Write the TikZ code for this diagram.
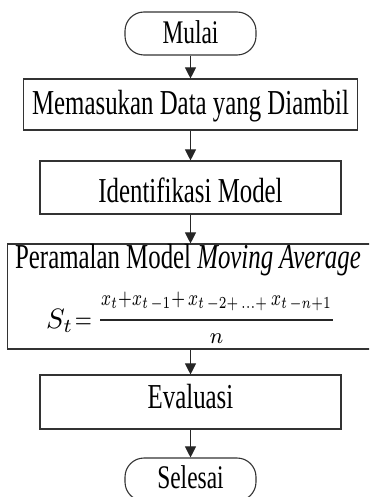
\documentclass[tikz,border=0pt]{standalone}
\usepackage{fontspec}
\setmainfont{Liberation Serif}
\usetikzlibrary{arrows.meta}

% condensed lettering used for all labels
\newcommand{\narrow}[1]{\scalebox{0.71}[1]{#1}}
% formula parts, set small and enlarged
\newcommand{\lhsmath}[1]{\scalebox{2.8}[2.8]{$#1$}}
\newcommand{\eqmath}{\scalebox{2.2}[2.8]{$=$}}
\newcommand{\nummath}[1]{\scalebox{2.09}[2.8]{\fontsize{8}{10}\selectfont$#1$}}
\newcommand{\denmath}[1]{\scalebox{2.6}[2.8]{\fontsize{8}{10}\selectfont$#1$}}

\begin{document}
\begin{tikzpicture}[x=1pt,y=-1pt,
  frame/.style={draw=black!80, line width=1.1pt, inner sep=0pt},
  stepbox/.style={frame, rectangle},
  terminal/.style={frame, rectangle, rounded corners=19pt,
    minimum width=131pt, minimum height=43pt},
  label/.style={inner sep=0pt, anchor=base,
    font=\fontsize{35}{40}\selectfont},
  termlabel/.style={label, font=\fontsize{33}{38}\selectfont},
  mathpart/.style={inner sep=0pt, anchor=base},
  flow/.style={draw=black!85, line width=1pt,
    -{Triangle[length=11pt,width=11pt]}}
]
\useasboundingbox (0,0) rectangle (369,497);
\clip (0,0) rectangle (369,497);

% shapes
\node[terminal] (start) at (190.5,33.5) {};
\node[stepbox, minimum width=334pt, minimum height=51pt] (input) at (190.5,104.5) {};
\node[stepbox, minimum width=301pt, minimum height=53pt] (ident) at (190.5,187.5) {};
\node[stepbox, minimum width=366pt, minimum height=105pt] (fcast) at (190.5,296.5) {};
\node[stepbox, minimum width=301pt, minimum height=54pt] (eval) at (190.5,402) {};
\node[terminal] (stop) at (190.5,479.5) {};

% labels
\node[termlabel] (startT) at (190.5,44) {\narrow{Mulai}};
\node[label] (inputT) at (190.5,114.3) {\narrow{Memasukan Data yang Diambil}};
\node[label] (identT) at (190.5,202.3) {\narrow{Identifikasi Model}};
\node[label] (fcastT) at (188,268) {\narrow{Peramalan Model \textit{Moving Average}}};

% moving-average formula: left side, equals sign, numerator, bar, denominator
\node[mathpart, anchor=base west] (fcastL) at (46,328) {\lhsmath{S_t}};
\node[mathpart] (fcastEq) at (83.5,328) {\eqmath};
\node[mathpart] (fcastN) at (216.5,305.5)
  {\nummath{x_t{+}x_{t\,-1}{+}\,x_{t\,-2+\,\ldots+}\,x_{t\,-n+1}}};
\node[inner sep=0pt, fill=black!85, minimum width=233pt, minimum height=1.2pt] (fcastBar) at (216.5,320) {};
\node[mathpart] (fcastD) at (216.5,343) {\denmath{n}};
\node[label] (evalT) at (190.5,408) {\narrow{Evaluasi}};
\node[termlabel] (stopT) at (190.5,488) {\narrow{Selesai}};

% connectors
\path[flow] (start.south) -- (input.north);
\path[flow] (input.south) -- (ident.north);
\path[flow] (ident.south) -- (fcast.north);
\path[flow] (fcast.south) -- (eval.north);
\path[flow] (eval.south) -- (stop.north);
\end{tikzpicture}
\end{document}
